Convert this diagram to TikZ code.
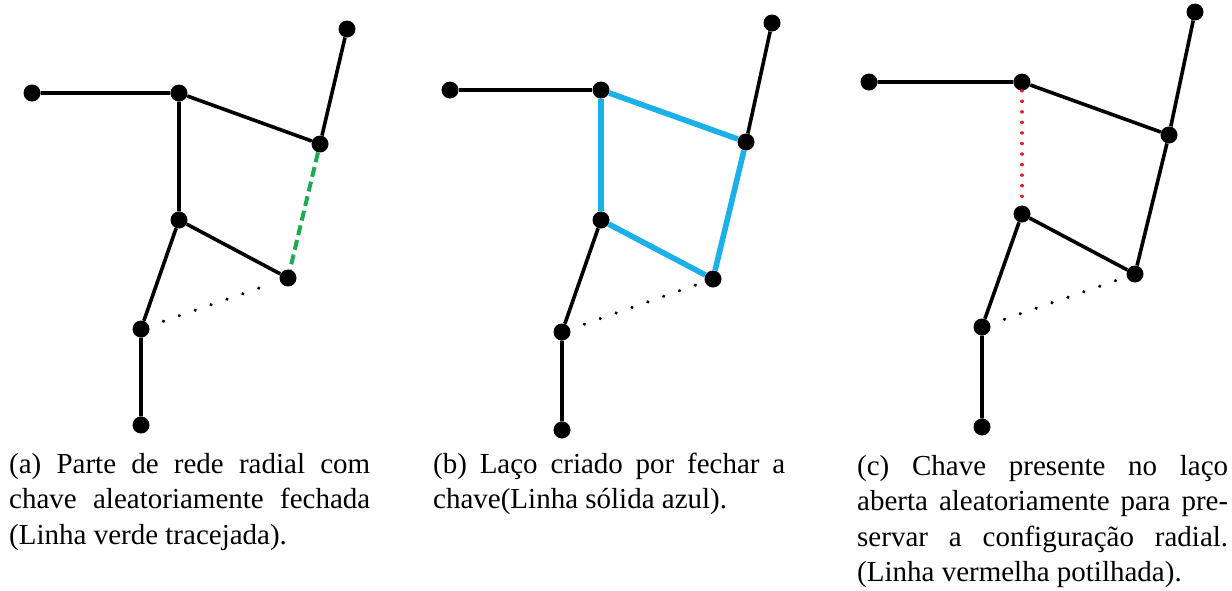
\documentclass[tikz,border=0pt]{standalone}
\usepackage{fontspec}
\setmainfont{Liberation Serif}
\definecolor{verde}{RGB}{30,170,80}
\definecolor{azul}{RGB}{28,176,232}
\definecolor{vermelho}{RGB}{225,30,35}
\usetikzlibrary{positioning}

\begin{document}
\begin{tikzpicture}[x=1pt, y=-1pt,
    barra/.style={circle, fill=black, inner sep=0pt, minimum size=17pt},
    ramo/.style={line width=3.6pt},
    laco/.style={line width=5.6pt, azul},
    fechada/.style={line width=4pt, verde, dash pattern=on 10pt off 5pt},
    aberta/.style={line width=3.4pt, line cap=round, dash pattern=on 0.1pt off 16.7pt, shorten <=15pt, shorten >=7pt},
    removida/.style={line width=3.4pt, vermelho, line cap=round, dash pattern=on 0.1pt off 10.45pt},
    legenda/.style={font=\fontsize{29}{35.5}\selectfont, inner sep=0pt, align=justify, anchor=base west}]
  \useasboundingbox (0,0) rectangle (1232,590);

  % (a) rede radial, chave fechada
  \foreach \n/\x/\y in {1/32/93, 2/179/93, 3/347/29, 4/320/144, 5/179/220, 6/288/278, 7/141/329, 8/141/425}
    \node[barra] (a\n) at (\x,\y) {};
  \draw[ramo] (a1) -- (a2) -- (a5) -- (a7) -- (a8);
  \draw[ramo] (a2) -- (a4) -- (a3);
  \draw[ramo] (a5) -- (a6);
  \draw[fechada] (a4) -- (a6);
  \draw[aberta] (a7) -- (a6);

  % (b) laco formado
  \foreach \n/\x/\y in {1/450/90, 2/601/90, 3/772/23, 4/746/142, 5/601/220, 6/713/279, 7/562/332, 8/562/430}
    \node[barra] (b\n) at (\x,\y) {};
  \draw[ramo] (b1) -- (b2);
  \draw[ramo] (b4) -- (b3);
  \draw[ramo] (b5) -- (b7) -- (b8);
  \draw[laco] (b2) -- (b4) -- (b6) -- (b5) -- (b2);
  \draw[aberta] (b7) -- (b6);

  % (c) chave do laco aberta
  \foreach \n/\x/\y in {1/869/82, 2/1022/82, 3/1195/12, 4/1169/135, 5/1022/214, 6/1135/274, 7/982/327, 8/982/427}
    \node[barra] (c\n) at (\x,\y) {};
  \draw[ramo] (c1) -- (c2) -- (c4) -- (c3);
  \draw[ramo] (c4) -- (c6) -- (c5) -- (c7) -- (c8);
  \draw[removida] (c2) -- (c5);
  \draw[aberta] (c7) -- (c6);

  % legendas
  \node[legenda, text width=361pt] (legA) at (9,473)
    {(a) Parte de rede radial com\linebreak chave aleatoriamente fechada\linebreak (Linha verde tracejada).};
  \node[legenda, text width=352pt] (legB) at (433,473)
    {(b) Laço criado por fechar a\linebreak chave(Linha sólida azul).};
  \node[legenda, text width=371pt] (legC) at (857,475)
    {(c) Chave presente no laço\linebreak aberta aleatoriamente para pre-\linebreak servar a configuração radial.\linebreak (Linha vermelha potilhada).};
\end{tikzpicture}
\end{document}
